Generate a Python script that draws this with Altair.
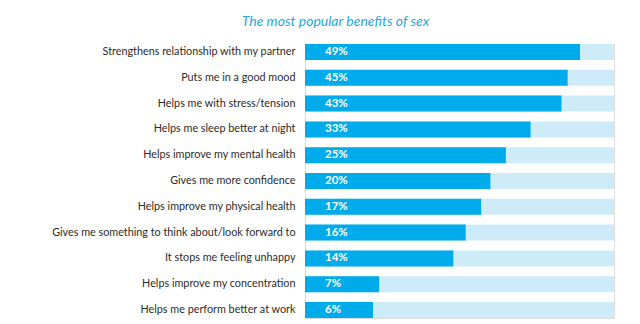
import altair as alt
import pandas as pd

categories = [
    "Strengthens relationship with my partner",
    "Puts me in a good mood",
    "Helps me with stress/tension",
    "Helps me sleep better at night",
    "Helps improve my mental health",
    "Gives me more confidence",
    "Helps improve my physical health",
    "Gives me something to think about/look forward to",
    "It stops me feeling unhappy",
    "Helps improve my concentration",
    "Helps me perform better at work",
]
percent_labels = [49, 45, 43, 33, 25, 20, 17, 16, 14, 7, 6]
# bar length as drawn, in share of the full track (track = 100)
bar_length = [89, 85, 83, 73, 65, 60, 57, 52, 48, 24, 22]
track_length = [100] * len(categories)

df = pd.DataFrame({
    "benefit": categories,
    "pct": percent_labels,
    "pct_text": [f"{v}%" for v in percent_labels],
    "bar": bar_length,
    "track": track_length,
})

y_enc = alt.Y(
    "benefit:N",
    sort=None,
    title=None,
    scale=alt.Scale(paddingInner=0.38, paddingOuter=0),
    axis=alt.Axis(
        ticks=False,
        domain=False,
        labelPadding=10,
        labelFont="Lato",
        labelFontSize=10.8,
        labelColor="#2b2b2b",
        labelLimit=400,
    ),
)
x_scale = alt.Scale(domain=[0, 100], nice=False, zero=True)

base = alt.Chart(df)

track = base.mark_bar(color="#cdebf9", cornerRadius=0).encode(
    y=y_enc,
    x=alt.X("track:Q", scale=x_scale, axis=None),
)
bars = base.mark_bar(color="#00abec").encode(
    y=y_enc,
    x=alt.X("bar:Q", scale=x_scale, axis=None),
)
text = base.mark_text(
    align="left", baseline="middle", dx=20, color="white",
    font="Lato", fontSize=11.5, fontWeight="bold",
).encode(
    y=y_enc,
    x=alt.datum(0),
    text="pct_text:N",
)

chart = alt.layer(track, bars, text).properties(
    width=309,
    height=274,
    autosize=alt.AutoSizeParams(type="none"),
    padding={"left": 305, "top": 44, "right": 26, "bottom": 6},
    title=alt.TitleParams(
        "The most popular benefits of sex",
        font="Lato",
        fontStyle="italic",
        fontWeight="normal",
        fontSize=14,
        color="#27a8e0",
        anchor="middle",
        dx=-124,
        offset=4,
        baseline="alphabetic",
    ),
).configure_view(stroke=None).configure(background="white")

chart.save("out.html", embed_options={"renderer": "svg", "actions": False})
